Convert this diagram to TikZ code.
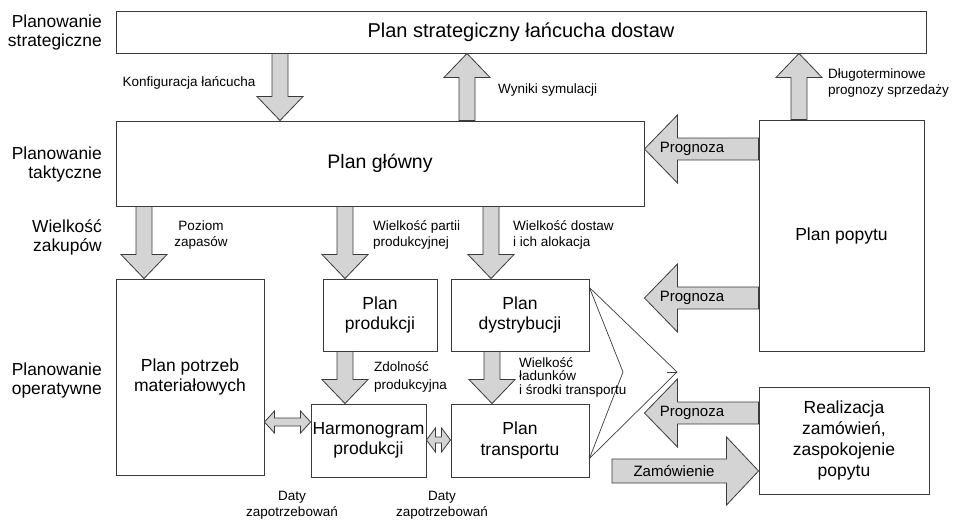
\documentclass[tikz,border=0pt]{standalone}
\usepackage{fontspec}
\setmainfont{Liberation Sans}
\usepackage{tikz}
\usetikzlibrary{calc, positioning}

\definecolor{linegray}{HTML}{3A3A3A}
\definecolor{arrowgray}{HTML}{D4D4D4}

\tikzset{
  box/.style={draw=linegray, line width=0.9pt, align=center, inner sep=0pt,
    font=\fontsize{17.5}{20.5}\selectfont},
  blk/.style={draw=linegray, fill=arrowgray, line width=0.8pt, line join=miter},
  lab/.style={inner sep=0pt, font=\fontsize{13.5}{16}\selectfont},
  side/.style={inner sep=0pt, anchor=east, align=right,
    font=\fontsize{17.4}{19}\selectfont},
  arrtext/.style={inner sep=0pt, font=\fontsize{15}{18}\selectfont},
}

% block arrow: start, tip, shaft half width, head half width, head length
\newcommand{\blockarrow}[5]{%
  \coordinate (ba-s) at (#1);
  \coordinate (ba-e) at (#2);
  \draw[blk] ($(ba-s)!#3!90:(ba-e)$) -- ($(ba-e)!#5!(ba-s)!#3!90:(ba-e)$)
    -- ($(ba-e)!#5!(ba-s)!#4!90:(ba-e)$) -- (ba-e)
    -- ($(ba-e)!#5!(ba-s)!#4!-90:(ba-e)$) -- ($(ba-e)!#5!(ba-s)!#3!-90:(ba-e)$)
    -- ($(ba-s)!#3!-90:(ba-e)$) -- cycle;
}
% double block arrow: tip, tip, shaft half width, head half width, head length
\newcommand{\blockdouble}[5]{%
  \coordinate (bd-a) at (#1);
  \coordinate (bd-b) at (#2);
  \draw[blk] (bd-a) -- ($(bd-a)!#5!(bd-b)!#4!90:(bd-b)$)
    -- ($(bd-a)!#5!(bd-b)!#3!90:(bd-b)$) -- ($(bd-b)!#5!(bd-a)!#3!-90:(bd-a)$)
    -- ($(bd-b)!#5!(bd-a)!#4!-90:(bd-a)$) -- (bd-b)
    -- ($(bd-b)!#5!(bd-a)!#4!90:(bd-a)$) -- ($(bd-b)!#5!(bd-a)!#3!90:(bd-a)$)
    -- ($(bd-a)!#5!(bd-b)!#3!-90:(bd-b)$) -- ($(bd-a)!#5!(bd-b)!#4!-90:(bd-b)$)
    -- cycle;
}

\begin{document}
\begin{tikzpicture}[x=1pt, y=-1pt]
  \useasboundingbox (0,0) rectangle (956,520);

  % Planning levels
  \node[side] (lstrat) at (102,32) {Planowanie\\strategiczne};
  \node[side] (ltakt) at (102,164) {Planowanie\\taktyczne};
  \node[side] (lzak) at (102,237) {Wielkość\\zakupów};
  \node[side] (loper) at (102,380) {Planowanie\\operatywne};

  % Boxes
  \node[box, minimum width=810pt, minimum height=42pt,
    font=\fontsize{20}{24}\selectfont] (strat) at (521,32) {Plan strategiczny łańcucha dostaw};
  \node[box, minimum width=528pt, minimum height=85pt,
    font=\fontsize{19.5}{23}\selectfont] (glowny) at (380,163.5) {Plan główny};
  \node[box, minimum width=165pt, minimum height=231pt] (popyt) at (841.5,235.5) {Plan popytu};
  \node[box, minimum width=148pt, minimum height=196pt] (mrp) at (190,377) {Plan potrzeb\\materiałowych};
  \node[box, minimum width=114pt, minimum height=72pt] (prod) at (380,315) {Plan\\produkcji};
  \node[box, minimum width=138pt, minimum height=72pt] (dyst) at (520,315) {Plan\\dystrybucji};
  \node[box, minimum width=115pt, minimum height=73pt] (harm) at (368.5,440.5) {Harmonogram\\produkcji};
  \node[box, minimum width=138pt, minimum height=73pt] (transp) at (520,440.5) {Plan\\transportu};
  \node[box, minimum width=170pt, minimum height=107pt,
    font=\fontsize{17.5}{21}\selectfont] (real) at (844,440.5) {Realizacja\\zamówień,\\zaspokojenie\\popytu};

  % Vertical arrows
  \foreach \xa/\from/\to in {280/strat.south/glowny.north, 467/glowny.north/strat.south,
      799/popyt.north/strat.south, 144/glowny.south/mrp.north, 345/glowny.south/prod.north,
      491/glowny.south/dyst.north, 345/prod.south/harm.north, 492/dyst.south/transp.north}{
    \blockarrow{\xa,0 |- \from}{\xa,0 |- \to}{8pt}{23pt}{24pt}
  }

  % Horizontal arrows
  \foreach \ya/\from in {149/popyt.west, 298/popyt.west, 413/real.west}{
    \blockarrow{\from |- 0,\ya}{glowny.east |- 0,\ya}{11pt}{34pt}{33pt}
  }
  \coordinate (zamstart) at (612,471);
  \blockarrow{zamstart}{real.west |- zamstart}{12pt}{34pt}{32pt}

  % Double arrows
  \blockdouble{mrp.east |- 0,422}{harm.west |- 0,422}{4pt}{11pt}{10pt}
  \blockdouble{harm.east |- 0,440}{transp.west |- 0,440}{3pt}{12pt}{9pt}

  % Lines to order realization
  \coordinate (vin) at (623,372);
  \coordinate (vout) at (677,372);
  \draw[linegray, line width=0.7pt] ($(dyst.north east)+(0,9)$) -- (vin) -- ($(transp.south east)+(0,-19)$);
  \draw[linegray, line width=0.7pt] ($(dyst.north east)+(0,9)$) -- (vout) -- ($(transp.south east)+(0,-19)$);
  \draw[linegray, line width=0.7pt] (vout) -- ++(-10,0);

  % Arrow texts
  \node[arrtext] (prog1) at (692,149) {Prognoza};
  \node[arrtext] (prog2) at (692,298) {Prognoza};
  \node[arrtext] (prog3) at (692,413) {Prognoza};
  \node[arrtext] (zam) at (674,471) {Zamówienie};

  % Labels
  \node[lab] (konf) at (189,83) {Konfiguracja łańcucha};
  \node[lab, anchor=west] (wyn) at (498,90) {Wyniki symulacji};
  \node[lab, anchor=west, align=left] (dlugo) at (828,83.5) {Długoterminowe\\prognozy sprzedaży};
  \node[lab, align=center] (zapas) at (201,235) {Poziom\\zapasów};
  \node[lab, anchor=west, align=left] (partia) at (373,235) {Wielkość partii\\produkcyjnej};
  \node[lab, anchor=west, align=left] (dost) at (513,235) {Wielkość dostaw\\ i ich alokacja};
  \node[lab, anchor=west, align=left, font=\fontsize{13.5}{18}\selectfont] (zdol) at (374,377) {Zdolność\\produkcyjna};
  \node[lab, anchor=west, align=left, font=\fontsize{13.5}{13.5}\selectfont] (ladun) at (519,377) {Wielkość\\ładunków\\i środki transportu};
  \node[lab, align=center] (daty1) at (292,505) {Daty\\zapotrzebowań};
  \node[lab, align=center] (daty2) at (442,505) {Daty\\zapotrzebowań};
\end{tikzpicture}
\end{document}
